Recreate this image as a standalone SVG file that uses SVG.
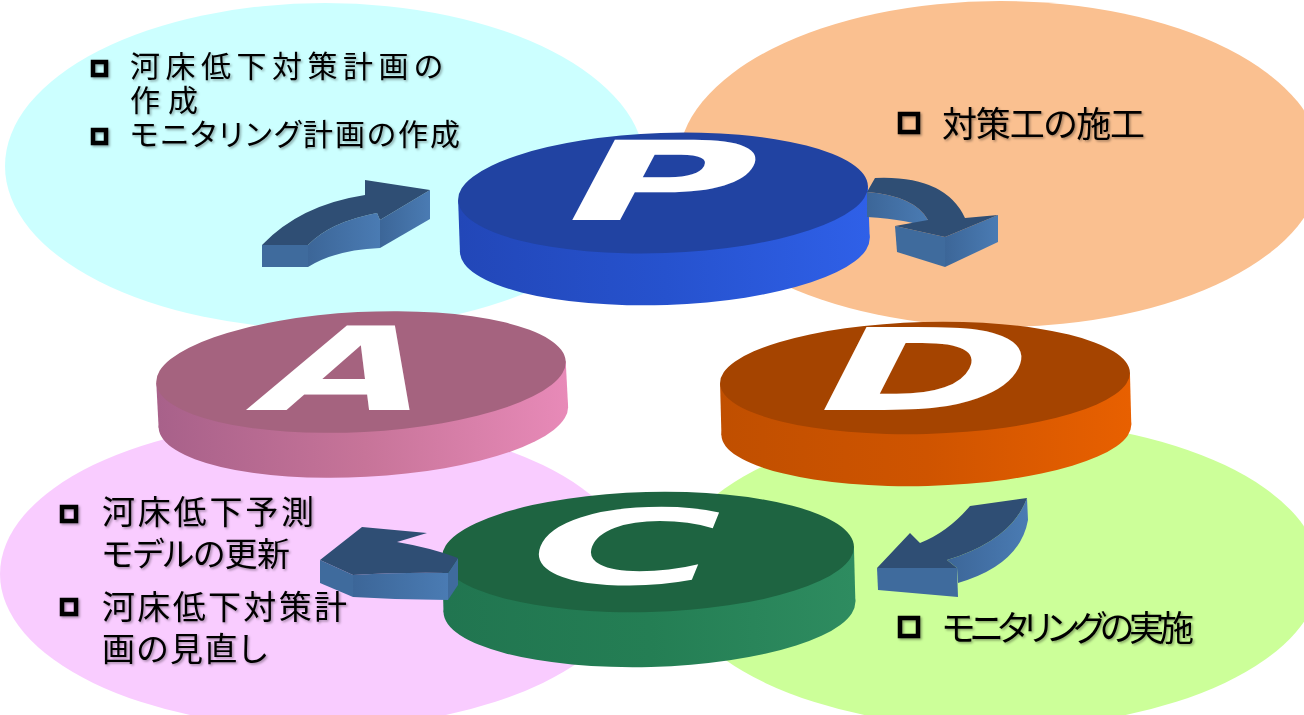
<svg xmlns="http://www.w3.org/2000/svg" width="1304" height="715" viewBox="0 0 1304 715">
<defs>
  <linearGradient id="sideP" x1="0" y1="0" x2="1" y2="0"><stop offset="0" stop-color="#2247B8"/><stop offset="0.5" stop-color="#2652CE"/><stop offset="1" stop-color="#2F60E8"/></linearGradient>
  <linearGradient id="sideA" x1="0" y1="0" x2="1" y2="0"><stop offset="0" stop-color="#A8618A"/><stop offset="0.5" stop-color="#C77499"/><stop offset="1" stop-color="#E88AB8"/></linearGradient>
  <linearGradient id="sideD" x1="0" y1="0" x2="1" y2="0"><stop offset="0" stop-color="#C04F00"/><stop offset="0.5" stop-color="#CF5400"/><stop offset="1" stop-color="#E86000"/></linearGradient>
  <linearGradient id="sideC" x1="0" y1="0" x2="1" y2="0"><stop offset="0" stop-color="#217550"/><stop offset="0.5" stop-color="#247E54"/><stop offset="1" stop-color="#2E8C60"/></linearGradient>
  <linearGradient id="arrSide" x1="0" y1="0" x2="1" y2="0"><stop offset="0" stop-color="#3C6698"/><stop offset="1" stop-color="#4A7BB3"/></linearGradient>
  <filter id="tshadow" x="-5%" y="-20%" width="110%" height="140%"><feDropShadow dx="1.5" dy="1.5" stdDeviation="1" flood-color="#000" flood-opacity="0.35"/></filter>
</defs>
<style>
  .txt { font-family: "Noto Sans CJK JP", "Noto Sans", sans-serif; fill: #000; font-feature-settings: "palt"; }
  .bul { fill: none; stroke: #000; stroke-width: 4.5; }
  .letter { font-family: "DejaVu Sans", "Liberation Sans", sans-serif; font-weight: bold; font-size: 200px; fill: #fff; }
  .atop { fill: #2F4E74; }
  .aside { fill: url(#arrSide); }
  .aend { fill: #3F6B9D; }
</style>
<rect width="1304" height="715" fill="#fff"/>
<g id="regions">
  <ellipse id="region-plan" cx="325" cy="166" rx="320" ry="163" fill="#CCFFFF"/>
  <ellipse id="region-do" cx="1000" cy="164" rx="322" ry="163" fill="#FAC090"/>
  <ellipse id="region-act" cx="318" cy="574" rx="318" ry="154" fill="#F9CCFF"/>
  <ellipse id="region-check" cx="995" cy="574" rx="325" ry="154" fill="#CCFF99"/>
</g>
<g id="node-A">
  <g transform="rotate(-3 361 372)">
    <ellipse cx="361" cy="417" rx="205" ry="60" fill="url(#sideA)"/>
    <rect x="156" y="372" width="410" height="45" fill="url(#sideA)"/>
    <ellipse cx="361" cy="372" rx="205" ry="60" fill="#A5637F"/>
  </g>
  <text class="letter" transform="translate(245 410) skewX(-27) scale(1.07 0.58)">A</text>
</g>
<g id="node-P">
  <g transform="rotate(-2 663 193)">
    <ellipse cx="663" cy="245" rx="205" ry="60" fill="url(#sideP)"/>
    <rect x="458" y="193" width="410" height="52" fill="url(#sideP)"/>
    <ellipse cx="663" cy="193" rx="205" ry="60" fill="#2143A2"/>
  </g>
  <text class="letter" transform="translate(549 220) skewX(-28) scale(1.27 0.55)">P</text>
</g>
<g id="node-D">
  <g transform="rotate(-1.5 925 378)">
    <ellipse cx="925" cy="430" rx="205" ry="56" fill="url(#sideD)"/>
    <rect x="720" y="378" width="410" height="52" fill="url(#sideD)"/>
    <ellipse cx="925" cy="378" rx="205" ry="56" fill="#A54400"/>
  </g>
  <text class="letter" transform="translate(801 410) skewX(-27) scale(1.26 0.57)">D</text>
</g>
<g id="node-C">
  <g transform="rotate(-1.5 648 552)">
    <ellipse cx="648" cy="607" rx="206" ry="60" fill="url(#sideC)"/>
    <rect x="442" y="552" width="412" height="55" fill="url(#sideC)"/>
    <ellipse cx="648" cy="552" rx="206" ry="60" fill="#1E6441"/>
  </g>
  <text class="letter" transform="translate(512 584) skewX(-22) scale(1.33 0.52)">C</text>
</g>
<g id="connectors">
  <g id="arrow-A-P">
    <path class="aend" d="M262,245 L308,245 L308,267 L262,267 Z"/>
    <path class="aside" d="M308,245 Q330,222 377,213 L380,220 L380,248 Q335,250 308,267 Z"/>
    <path class="aside" d="M380,220 L430,190 L430,219 L380,248 Z"/>
    <path class="atop" d="M262,245 Q300,205 365,195 L365,180 L430,190 L380,220 L377,213 Q330,222 308,245 Z"/>
  </g>
  <g id="arrow-P-D">
    <path class="aside" d="M867,192 Q915,196 928,220 L928,228 Q912,220 867,217 Z"/>
    <path class="aend" d="M895,226 L945,237 L945,267 L897,252 Z"/>
    <path class="aside" d="M945,237 L998,215 L998,242 L945,267 Z"/>
    <path class="atop" d="M875,178 Q945,175 965,218 L998,215 L945,237 L895,226 L928,220 Q915,196 867,192 Z"/>
  </g>
  <g id="arrow-D-C">
    <path class="aend" d="M877,568 L957,568 L958,597 L878,590 Z"/>
    <path class="aside" d="M957,568 L947,560 Q1012,540 1027,498 L1028,520 Q1020,565 958,583 Z"/>
    <path class="atop" d="M1027,498 L970,506 Q948,532 920,543 L910,533 L877,568 L957,568 L947,560 Q1012,540 1027,498 Z"/>
  </g>
  <g id="arrow-C-A">
    <path class="aend" d="M320,560 L353,575 L353,597 L320,583 Z"/>
    <path class="aside" d="M353,575 Q405,572 448,573 L448,600 Q400,600 353,597 Z"/>
    <path class="aend" d="M448,573 L458,558 L458,585 L448,600 Z"/>
    <path class="atop" d="M362,527 L427,533 L397,542 Q432,548 458,558 L448,573 Q405,572 353,575 L320,560 Z"/>
  </g>
</g>
<g id="text-plan" filter="url(#tshadow)">
  <rect class="bul" x="93" y="62" width="13" height="13"/>
  <text class="txt" x="130" y="77" font-size="30" textLength="313" lengthAdjust="spacing">河床低下対策計画の</text>
  <text class="txt" x="130" y="111" font-size="30" textLength="68" lengthAdjust="spacing">作成</text>
  <rect class="bul" x="93" y="130" width="13" height="13"/>
  <text class="txt" x="130" y="145" font-size="30" textLength="330" lengthAdjust="spacing">モニタリング計画の作成</text>
</g>
<g id="text-do" filter="url(#tshadow)">
  <rect class="bul" x="900" y="114" width="18" height="18"/>
  <text class="txt" x="942" y="137" font-size="35" textLength="203" lengthAdjust="spacing">対策工の施工</text>
</g>
<g id="text-check" filter="url(#tshadow)">
  <rect class="bul" x="900" y="618" width="18" height="18"/>
  <text class="txt" x="942" y="641" font-size="35" textLength="252" lengthAdjust="spacing">モニタリングの実施</text>
</g>
<g id="text-act" filter="url(#tshadow)">
  <rect class="bul" x="62" y="507" width="14" height="14"/>
  <text class="txt" x="102" y="524" font-size="33" textLength="212" lengthAdjust="spacing">河床低下予測</text>
  <text class="txt" x="102" y="566" font-size="33" textLength="188" lengthAdjust="spacing">モデルの更新</text>
  <rect class="bul" x="62" y="600" width="14" height="14"/>
  <text class="txt" x="102" y="619" font-size="33" textLength="245" lengthAdjust="spacing">河床低下対策計</text>
  <text class="txt" x="102" y="661" font-size="33" textLength="165" lengthAdjust="spacing">画の見直し</text>
</g>
</svg>
